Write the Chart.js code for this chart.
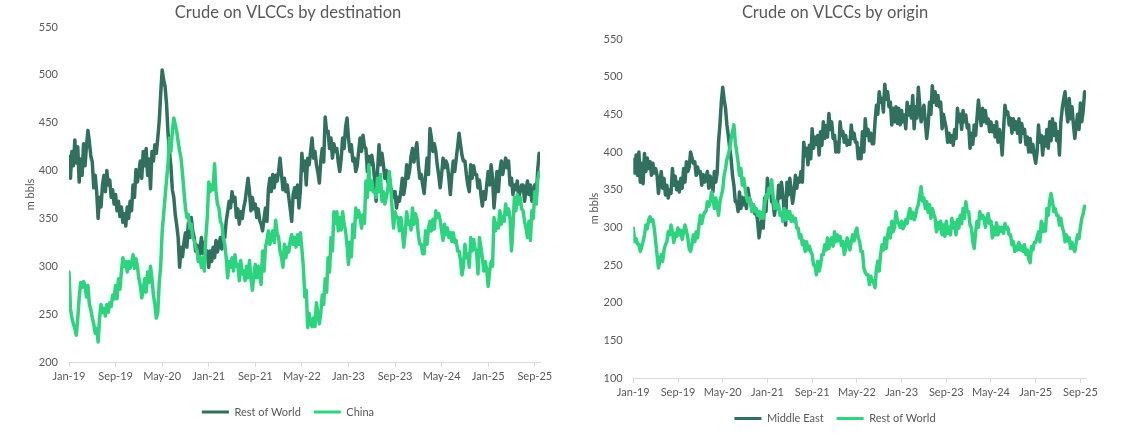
<!DOCTYPE html>
<html>
<head>
<meta charset="utf-8">
<script src="https://cdn.jsdelivr.net/npm/chart.js@4.4.1/dist/chart.umd.min.js"></script>
<style>
  body { margin: 0; background: #fff; }
  .box { position: absolute; top: 0; width: 563px; height: 436px; }
</style>
</head>
<body>
<div class="box" style="left:0"><canvas id="dest"></canvas></div>
<div class="box" style="left:563px"><canvas id="orig"></canvas></div>
<script>
// one x tick every 8 months, Jan-19 = month 0
const xTickLabels = ['Jan-19', 'Sep-19', 'May-20', 'Jan-21', 'Sep-21', 'May-22', 'Jan-23', 'Sep-23', 'May-24', 'Jan-25', 'Sep-25'];

// weekly readings, 4 per month from Jan-19 (m bbls)
const destRestOfWorld = [
  415,392,420,405, 432,408,425,388, 412,395,428,405, 425,442,430,415,
  409,382,395,378, 350,372,362,385, 395,378,400,385, 390,372,380,365,
  375,358,368,352, 362,346,355,342, 362,350,368,358, 385,372,401,388,
  398,410,392,420, 405,423,395,412, 381,420,410,427, 418,434,452,480,
  505,495,488,470, 440,420,405,380, 372,354,343,330, 299,320,310,325,
  335,320,345,330, 351,337,330,316, 322,305,318,330, 313,325,310,316,
  299,316,305,320, 309,327,315,322, 330,318,337,330, 347,357,368,361,
  378,368,372,351, 360,344,357,350, 361,368,380,392, 378,358,372,360,
  365,351,360,348, 344,337,350,361, 347,380,392,378, 396,382,395,389,
  399,413,396,380, 392,378,385,372, 360,347,375,382, 372,385,361,380,
  418,400,410,385, 413,406,420,434, 413,420,406,398, 387,410,423,409,
  456,440,441,423, 434,413,428,420, 423,409,399,412, 434,423,445,455,
  434,420,427,410, 413,399,405,420, 434,420,437,425, 423,399,415,406,
  416,406,390,368, 400,427,406,418, 406,392,400,388, 392,382,378,372,
  378,361,372,368, 378,392,375,385, 406,392,400,415, 423,409,420,429,
  406,392,396,385, 376,395,413,396, 444,434,420,428, 420,406,395,382,
  396,413,403,410, 406,392,375,395, 410,399,412,425, 439,427,416,410,
  410,396,385,378, 406,392,405,396, 396,382,390,375, 363,378,370,385,
  399,385,406,392, 361,380,399,378, 399,410,396,405, 413,403,410,385,
  392,375,385,380, 389,372,378,385, 385,368,380,389, 375,385,368,380,
  385,372,400,418
];
const destChina = [
  294,256,246,240, 235,228,245,267, 283,278,284,280, 268,280,260,255,
  246,240,230,235, 221,246,260,252, 256,248,260,252, 262,258,270,266,
  280,266,287,276, 294,309,300,305, 294,305,298,304, 312,298,308,300,
  287,280,267,275, 287,273,294,283, 300,287,270,260, 246,252,283,300,
  336,354,372,390, 406,434,420,441, 455,448,441,430, 420,413,396,378,
  361,351,354,340, 344,330,327,320, 316,305,310,299, 309,295,330,351,
  388,378,385,380, 407,378,365,361, 347,344,330,323, 309,288,305,299,
  309,295,312,300, 302,285,306,292, 295,285,300,288, 306,288,275,290,
  302,288,300,290, 281,316,295,320, 327,337,323,330, 337,325,348,335,
  330,316,309,299, 323,309,320,315, 327,333,323,330, 320,333,323,335,
  318,300,268,275, 236,251,240,237, 246,237,262,250, 240,251,270,260,
  287,273,309,294, 330,316,357,345, 357,337,351,338, 357,344,337,323,
  302,325,310,344, 330,361,351,358, 351,340,354,345, 389,372,406,380,
  389,378,378,372, 392,378,396,368, 378,365,372,380, 399,385,361,340,
  357,351,351,337, 351,337,320,335, 357,344,347,338, 361,344,355,350,
  333,323,323,313, 313,337,323,340, 347,337,349,339, 358,351,355,348,
  337,327,344,333, 340,330,335,326, 335,325,327,316, 316,306,291,300,
  323,309,313,299, 330,316,328,318, 316,292,330,320, 309,295,305,296,
  279,295,305,300, 351,337,345,340, 358,344,352,347, 365,354,360,350,
  316,340,372,358, 375,365,372,360, 358,347,340,330, 347,327,358,350,
  378,365,390,398
];
const origMiddleEast = [
  390,372,396,369, 400,360,385,358, 398,374,392,378, 387,369,385,372,
  378,369,345,360, 374,352,365,343, 356,339,350,345, 378,356,368,350,
  360,347,365,352, 378,360,387,374, 380,400,392,385, 387,369,380,372,
  374,356,370,360, 365,374,352,368, 360,347,374,360, 372,413,436,466,
  486,470,458,436, 422,405,391,369, 356,334,334,321, 347,325,340,330,
  339,325,352,339, 334,321,330,318, 321,308,286,300, 312,299,339,321,
  365,345,356,334, 334,316,330,325, 356,339,360,345, 320,303,360,343,
  365,350,332,345, 369,352,365,360, 374,360,413,395, 405,383,409,391,
  431,405,420,410, 422,396,427,409, 440,418,435,420, 451,430,440,418,
  422,400,413,400, 440,422,427,413, 422,409,415,410, 436,418,425,413,
  413,391,405,391, 427,400,444,422, 430,415,425,411, 411,440,462,450,
  480,466,471,453, 490,470,480,460, 466,436,458,440, 460,438,458,436,
  455,440,449,431, 466,449,460,445, 475,431,460,445, 486,462,440,450,
  462,440,418,435, 466,450,488,466, 480,462,475,460, 466,431,450,440,
  431,413,425,413, 422,409,430,418, 458,440,450,430, 455,440,449,432,
  436,405,425,410, 436,422,445,469, 450,435,458,440, 455,438,444,427,
  440,427,435,420, 440,413,430,420, 396,430,462,450, 453,436,445,425,
  444,430,440,425, 444,413,438,425, 430,410,420,400, 418,400,410,395,
  385,400,436,413, 422,396,420,408, 430,405,440,415, 444,422,438,415,
  427,396,440,458, 470,480,455,440, 471,444,460,436, 418,436,450,430,
  465,440,455,480
];
const origRestOfWorld = [
  299,281,285,278, 277,268,274,281, 290,303,298,310, 314,308,310,299,
  281,264,246,255, 264,255,270,277, 281,294,290,303, 294,280,292,288,
  299,290,296,284, 294,303,296,286, 272,268,277,290, 281,294,286,303,
  316,305,314,320, 321,334,328,334, 347,340,325,339, 330,316,334,342,
  350,369,378,390, 396,405,418,427, 436,413,400,387, 369,378,356,365,
  352,340,334,339, 334,321,330,321, 325,316,321,312, 320,312,330,343,
  339,352,345,363, 343,325,335,325, 330,316,320,308, 325,310,322,312,
  321,308,315,308, 312,299,299,286, 290,277,282,268, 281,270,275,268,
  264,250,250,237, 255,242,250,264, 264,277,270,286, 272,282,286,275,
  294,281,290,282, 288,276,281,264, 272,286,280,270, 281,290,282,294,
  299,286,281,268, 268,246,240,237, 237,224,235,230, 226,220,245,255,
  242,264,277,270, 286,272,290,299, 286,308,294,300, 321,308,305,300,
  308,298,302,310, 305,318,325,312, 320,310,315,325, 330,343,354,335,
  339,325,334,320, 330,312,325,318, 312,294,306,298, 308,290,303,288,
  308,292,300,290, 312,299,306,290, 310,299,316,305, 325,312,334,321,
  321,303,299,281, 272,294,308,300, 321,312,316,312, 300,312,318,305,
  308,286,300,290, 306,290,300,295, 300,292,305,298, 300,290,290,277,
  281,268,275,270, 280,270,275,268, 277,264,270,258, 253,275,270,280,
  280,287,294,281, 308,294,304,295, 325,316,335,345, 334,321,325,316,
  316,303,312,300, 294,281,290,282, 286,272,280,272, 268,280,290,285,
  300,312,318,328
];

const DARK = '#31705f';
const LIGHT = '#2dd47f';
const TEXT = '#595959';
const AXIS = '#d9d9d9';

Chart.defaults.font.family = 'Lato, "Open Sans", sans-serif';
Chart.defaults.color = TEXT;

function toPoints(vals) { return vals.map((v, i) => ({ x: i / 4, y: v })); }

function vlccChart(id, c) {
  return new Chart(document.getElementById(id), {
    type: 'line',
    data: {
      datasets: [
        { label: c.names[0], data: toPoints(c.series[0]), borderColor: DARK, backgroundColor: DARK, order: 1 },
        { label: c.names[1], data: toPoints(c.series[1]), borderColor: LIGHT, backgroundColor: LIGHT, order: 0 }
      ]
    },
    options: {
      responsive: true, maintainAspectRatio: false, animation: false,
      elements: {
        line: { borderWidth: 3.5, tension: 0, borderJoinStyle: 'round', borderCapStyle: 'round' },
        point: { radius: 0, hoverRadius: 0 }
      },
      layout: { padding: c.pad },
      plugins: {
        title: { display: true, text: c.title, color: TEXT, font: { size: 16.5, weight: 'normal' }, padding: c.titlePad },
        legend: {
          position: 'bottom',
          labels: {
            boxWidth: 27, boxHeight: 3, padding: 13, color: TEXT, font: { size: 11 },
            sort: (a, b) => a.datasetIndex - b.datasetIndex,
            generateLabels: ch => Chart.defaults.plugins.legend.labels.generateLabels(ch).map(l => ({ ...l, lineWidth: 0 }))
          }
        },
        tooltip: { enabled: false }
      },
      scales: {
        x: {
          type: 'linear', min: 0, max: c.xMax,
          ticks: { stepSize: 8, includeBounds: false, autoSkip: false, maxRotation: 0, padding: 3, font: { size: 11 }, color: TEXT,
                   callback: v => xTickLabels[v / 8] },
          grid: { drawOnChartArea: false, drawTicks: true, tickLength: 5, color: AXIS },
          border: { color: AXIS, width: 1 },
          afterFit: s => { s.height = c.xHeight; }
        },
        y: {
          min: c.yMin, max: 550,
          ticks: { stepSize: 50, padding: c.yTickPad, font: { size: 11 }, color: TEXT },
          grid: { display: false, drawTicks: false },
          border: { display: false },
          title: { display: true, text: 'm bbls', color: TEXT, font: { size: 11 }, padding: { top: c.yTitlePad, bottom: 0 } },
          afterFit: s => { s.width = c.yWidth; }
        }
      }
    }
  });
}

vlccChart('dest', {
  title: 'Crude on VLCCs by destination',
  names: ['Rest of World', 'China'],
  series: [destRestOfWorld, destChina],
  pad: { left: 36, right: 23, top: 0, bottom: 8.5 },
  titlePad: { top: 3.2, bottom: 4.0 },
  xMax: 80.9, xHeight: 31.5,
  yMin: 200, yWidth: 33, yTickPad: 11, yTitlePad: -12
});

vlccChart('orig', {
  title: 'Crude on VLCCs by origin',
  names: ['Middle East', 'Rest of World'],
  series: [origMiddleEast, origRestOfWorld],
  pad: { left: 21, right: 40, top: 0, bottom: 2 },
  titlePad: { top: 3.2, bottom: 16.0 },
  xMax: 81, xHeight: 22,
  yMin: 100, yWidth: 49.3, yTickPad: 10.6, yTitlePad: 3.4
});
</script>
</body>
</html>
